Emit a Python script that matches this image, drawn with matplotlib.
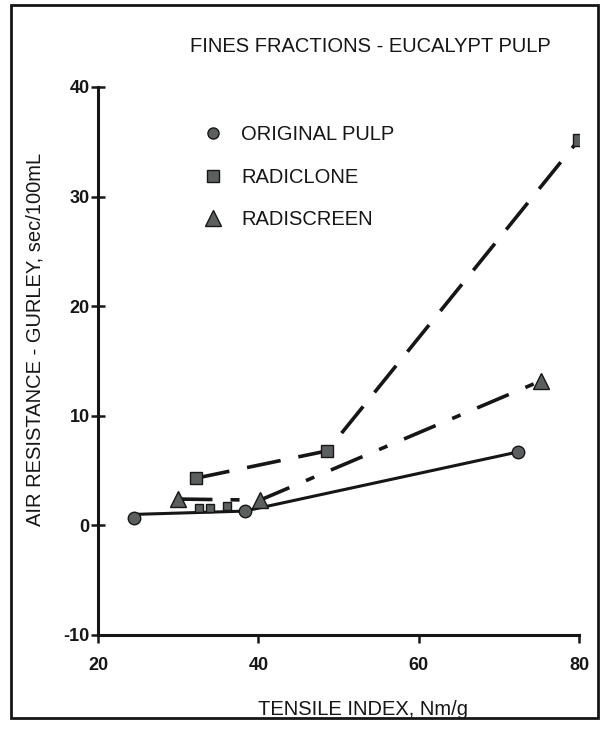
import matplotlib
matplotlib.use('Agg')
import matplotlib.pyplot as plt
from matplotlib.lines import Line2D
from matplotlib.patches import Rectangle

# data
orig_x = [24.5, 38.3, 72.4]
orig_y = [0.7, 1.3, 6.7]
orig_line_y = [1.0, 1.3, 6.7]

clone_x = [32.2, 48.6, 80.0]
clone_y = [4.3, 6.8, 35.2]
clone_low_x = [32.6, 34.0, 36.1]
clone_low_y = [1.6, 1.6, 1.8]

screen_x = [30.0, 40.2, 75.3]
screen_y = [2.4, 2.3, 13.2]

xticks = [20, 40, 60, 80]
yticks = [-10, 0, 10, 20, 30, 40]

plt.rcParams['font.family'] = ['Liberation Sans', 'DejaVu Sans']
plt.rcParams['axes.unicode_minus'] = False
ink = '#161616'
fill = '#5c5f5f'

fig = plt.figure(figsize=(6.0, 7.29), dpi=100)
ax = fig.add_axes([0.1633, 0.129, 0.8017, 0.7517])

# lines
ax.plot(orig_x, orig_line_y, color=ink, lw=2.2, solid_capstyle='butt')
ax.plot(clone_x, clone_y, color=ink, lw=2.6, dashes=(9.5, 5))
ax.plot(screen_x, screen_y, color=ink, lw=2.6, dashes=(9.5, 5, 2.5, 5))

# markers
ax.plot(orig_x, orig_y, 'o', ms=9, color=fill, mec=ink, mew=1.0)
ax.plot(clone_x, clone_y, 's', ms=9, color=fill, mec=ink, mew=1.0)
ax.plot(clone_low_x, clone_low_y, 's', ms=6, color=fill, mec=ink, mew=1.0)
ax.plot(screen_x, screen_y, '^', ms=11, color=fill, mec=ink, mew=1.0)

ax.set_xlim(20, 80)
ax.set_ylim(-10, 40)
ax.set_xticks(xticks)
ax.set_yticks(yticks)
for s in ['top', 'right']:
    ax.spines[s].set_visible(False)
for s in ['left', 'bottom']:
    ax.spines[s].set_linewidth(2.2)
    ax.spines[s].set_color(ink)
ax.tick_params(axis='y', direction='inout', length=10, width=1.8, color=ink,
               labelsize=13, labelcolor=ink, pad=1)
ax.tick_params(axis='x', direction='out', length=6, width=1.8, color=ink,
               labelsize=13, labelcolor=ink, pad=10)
for lab in ax.get_xticklabels() + ax.get_yticklabels():
    lab.set_fontweight('bold')

fs = 14.5
ax.set_xlabel('TENSILE INDEX, Nm/g', fontsize=fs, color=ink)
ax.set_ylabel('AIR RESISTANCE - GURLEY, sec/100mL', fontsize=fs, color=ink)
ax.xaxis.set_label_coords(0.551, -0.118)
ax.yaxis.set_label_coords(-0.111, 0.54)
fig.text(0.618, 0.936, 'FINES FRACTIONS - EUCALYPT PULP', fontsize=fs,
         color=ink, ha='center', va='center')

handles = [
    Line2D([], [], ls='none', marker='o', ms=8, color=fill, mec=ink),
    Line2D([], [], ls='none', marker='s', ms=8, color=fill, mec=ink),
    Line2D([], [], ls='none', marker='^', ms=11, color=fill, mec=ink),
]
labels = ['ORIGINAL PULP', 'RADICLONE', 'RADISCREEN']
leg = ax.legend(handles, labels, loc='upper left', bbox_to_anchor=(0.18, 0.963),
                frameon=False, fontsize=fs, labelspacing=1.16, handletextpad=0.9,
                handlelength=1.0)
for t in leg.get_texts():
    t.set_color(ink)

# page frame from the scan
fig.patches.append(Rectangle((11 / 600, 1 - 718 / 729), 587 / 600, 713 / 729,
                             transform=fig.transFigure, fill=False,
                             edgecolor=ink, lw=2.0))

fig.savefig('out.png', dpi=100)
